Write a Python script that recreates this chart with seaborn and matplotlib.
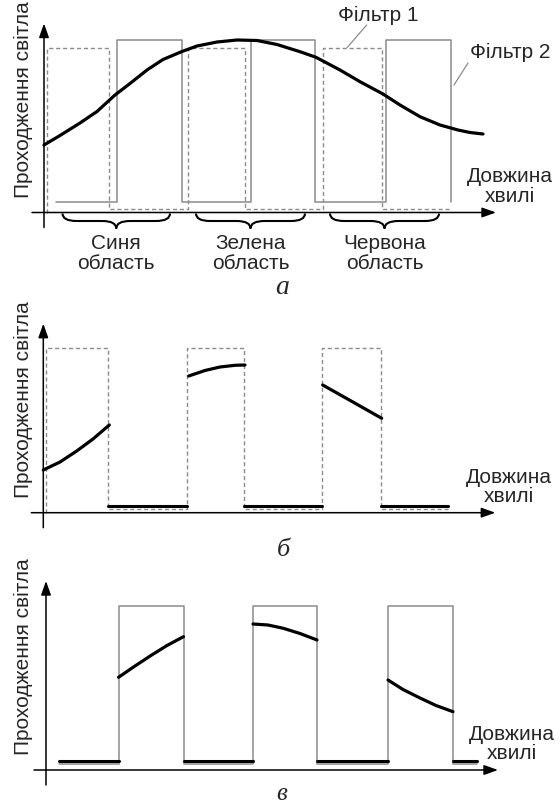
import matplotlib
matplotlib.use('Agg')
import matplotlib.pyplot as plt
from matplotlib.path import Path
from matplotlib.patches import PathPatch
import seaborn as sns

# ---- дані (довжина хвилі та пропускання в умовних одиницях) ----
# Фільтр 1 (штрихова лінія)
filtr1_smugy = [(3, 65), (144, 201), (279, 338)]
filtr1_verh = 165
filtr1_niz = 4
filtr1_kinec = 405

# Фільтр 2 (суцільна сіра лінія)
filtr2_smugy = [(72.5, 137.5), (207, 271), (342, 407)]
filtr2_verh_a, filtr2_niz_a, filtr2_pochatok_a = 173, 11, 12
filtr2_verh_v, filtr2_niz_v, filtr2_pochatok_v, filtr2_kinec_v = 164, 6, 13, 431

# Спектр (панель а)
spektr_x = [0, 16, 36, 53, 71, 86, 103, 119, 138, 153, 173, 193, 213, 233, 256,
            272, 296, 316, 339, 356, 376, 396, 414, 426, 439]
spektr_y = [67.5, 77, 89.5, 101, 117.5, 129, 142.5, 153, 161, 166.5, 170.5, 172.5,
            172, 168, 160.8, 155.2, 142.5, 130.8, 118.5, 107.5, 95.8, 87.5, 82.5, 80, 78.5]

# Панель б: після фільтра 1
b_kryvi_x = [[0, 16.7, 33.4, 49.7, 66], [145.4, 161.7, 176.7, 191.7, 201.7], [279.4, 308.7, 338.4]]
b_kryvi_y = [[42.7, 50.7, 61.7, 73.7, 87.7], [136.7, 142.2, 145.7, 147.4, 147.7], [127.7, 111.2, 94.4]]
b_niz = 7
b_niz_smugy = [(65, 144), (201, 279), (338, 405)]

# Панель в: після фільтра 2
v_kryvi_x = [[72.5, 89, 105.7, 121, 137.5], [207, 222, 237.3, 254, 271], [342, 357, 374, 390, 407]]
v_kryvi_y = [[92.7, 104, 115, 124.5, 133.3], [146, 145, 141.7, 136.5, 130], [90, 80.5, 72, 64.5, 58.3]]
v_niz = 9
v_niz_smugy = [(13, 72.5), (137.5, 207), (271, 342), (407, 431)]

# Фігурні дужки та підписи областей
duzhky = [(18.5, 126), (152, 261), (286, 395)]
oblasti = ['Синя\nобласть', 'Зелена\nобласть', 'Червона\nобласть']

W, H = 560, 807
SIRYI = '#8c8c8c'
SHRYFT = 15

sns.set_theme(style='white')
plt.rcParams['font.family'] = ['Liberation Sans', 'DejaVu Sans']


def shodynky(pochatok, smugy, verh, niz, kinec=None):
    xs, ys = [pochatok[0]], [pochatok[1]]
    for l, r in smugy:
        xs += [l, l, r, r]
        ys += [niz, verh, verh, niz]
    if kinec is not None:
        xs.append(kinec)
        ys.append(niz)
    return xs, ys


def panel(fig, top, bottom, ox, oy):
    ax = fig.add_axes([0, 1 - bottom / H, 1, (bottom - top) / H])
    ax.set_xlim(-ox, W - ox)
    ax.set_ylim(oy - bottom, oy - top)
    ax.set_axis_off()
    return ax


def osi(ax, ox):
    strilka = dict(arrowstyle='-|>,head_length=0.7,head_width=0.25', color='black',
                   lw=1.1, shrinkA=0, shrinkB=0)
    ax.annotate('', xy=(452, 0), xytext=(-12, 0), arrowprops=strilka)
    ax.annotate('', xy=(0, 189), xytext=(0, -15), arrowprops=strilka)
    ax.text(23 - ox, 15, 'Проходження світла', rotation=90, rotation_mode='anchor',
            ha='left', va='center', fontsize=SHRYFT)
    ax.text(466, 26, 'Довжина\nхвилі', ha='center', va='center', fontsize=SHRYFT,
            linespacing=1.0)


def liniya(ax, xs, ys, **kw):
    sns.lineplot(x=xs, y=ys, ax=ax, sort=False, estimator=None, **kw)


def duzhka(ax, x0, x1, y0=-1, h=15, q=14):
    xm = (x0 + x1) / 2
    ym = y0 - h / 2
    verts = [(x0, y0), (x0, ym), (x0 + q, ym), (xm - q, ym), (xm, ym), (xm, y0 - h),
             (xm, ym), (xm + q, ym), (x1 - q, ym), (x1, ym), (x1, y0)]
    codes = [Path.MOVETO, Path.CURVE3, Path.CURVE3, Path.LINETO, Path.CURVE3, Path.CURVE3,
             Path.CURVE3, Path.CURVE3, Path.LINETO, Path.CURVE3, Path.CURVE3]
    ax.add_patch(PathPatch(Path(verts, codes), fill=False, lw=1.5, color='black'))


fig = plt.figure(figsize=(W / 100, H / 100), dpi=100)

# ---- панель а ----
ax = panel(fig, 0, 300, 44, 212.5)
x1, y1 = shodynky((filtr1_smugy[0][0], 0), filtr1_smugy, filtr1_verh, filtr1_niz, filtr1_kinec)
liniya(ax, x1, y1, color=SIRYI, lw=1.0, linestyle=(0, (3, 2)))
x2, y2 = shodynky((filtr2_pochatok_a, filtr2_niz_a), filtr2_smugy, filtr2_verh_a, filtr2_niz_a)
liniya(ax, x2, y2, color=SIRYI, lw=1.1)
liniya(ax, spektr_x, spektr_y, color='black', lw=2.3)
osi(ax, 44)
for (l, r), nazva in zip(duzhky, oblasti):
    duzhka(ax, l, r)
    ax.text((l + r) / 2, -41, nazva, ha='center', va='center', fontsize=SHRYFT, linespacing=1.05)
ax.plot([303, 322.7], [164.8, 187.5], color=SIRYI, lw=0.9)
ax.text(334, 197.5, 'Фільтр 1', ha='center', va='center', fontsize=SHRYFT)
ax.plot([410, 424], [127.5, 149.5], color=SIRYI, lw=0.9)
ax.text(466, 160.5, 'Фільтр 2', ha='center', va='center', fontsize=SHRYFT)
ax.text(238, -75.5, 'а', ha='center', va='center', fontsize=20, style='italic',
        family='Liberation Serif')

# ---- панель б ----
ax = panel(fig, 300, 545, 43.3, 512.7)
liniya(ax, x1, y1, color=SIRYI, lw=1.0, linestyle=(0, (3, 2)))
for l, r in b_niz_smugy:
    liniya(ax, [l, r], [b_niz, b_niz], color='black', lw=2.2)
for xs, ys in zip(b_kryvi_x, b_kryvi_y):
    liniya(ax, xs, ys, color='black', lw=2.3)
osi(ax, 43.3)
ax.text(240, -37.3, 'б', ha='center', va='center', fontsize=19, style='italic',
        family='Liberation Serif')

# ---- панель в ----
ax = panel(fig, 545, 807, 46, 770)
x3, y3 = shodynky((filtr2_pochatok_v, filtr2_niz_v), filtr2_smugy, filtr2_verh_v,
                  filtr2_niz_v, filtr2_kinec_v)
liniya(ax, x3, y3, color=SIRYI, lw=1.1)
for l, r in v_niz_smugy:
    liniya(ax, [l, r], [v_niz, v_niz], color='black', lw=2.2)
for xs, ys in zip(v_kryvi_x, v_kryvi_y):
    liniya(ax, xs, ys, color='black', lw=2.3)
osi(ax, 46)
ax.text(236, -24, 'в', ha='center', va='center', fontsize=18, style='italic',
        family='Liberation Serif')

fig.savefig('out.png', dpi=100)
